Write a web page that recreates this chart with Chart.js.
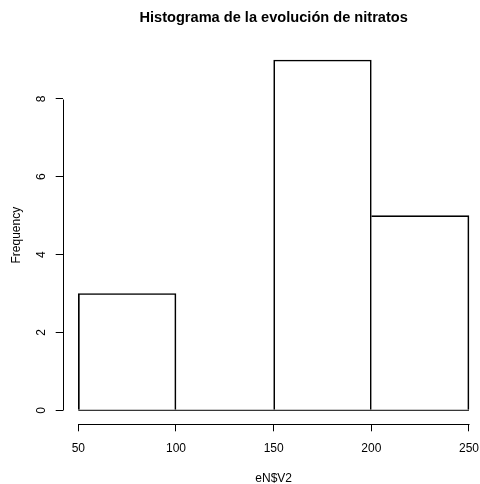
<!DOCTYPE html>
<html>
<head>
<meta charset="utf-8">
<script src="https://cdn.jsdelivr.net/npm/chart.js@4/dist/chart.umd.min.js"></script>
<style>
  html, body { margin: 0; padding: 0; background: #fff; overflow: hidden; width: 480px; height: 484px; }
  #wrap { position: relative; width: 480px; height: 484px; overflow: hidden; }
  #chart { display: block; position: absolute; left: 0; top: 0; }
</style>
</head>
<body>
<div id="wrap"><canvas id="chart" width="486" height="484" style="width:486px;height:484px"></canvas></div>
<script>
// Histogram of nitrate evolution: class breaks and counts per class
const breaks = [50, 100, 150, 200, 250];
const counts = [3, 0, 9, 5];
const xTicks = [50, 100, 150, 200, 250];
const yTicks = [0, 2, 4, 6, 8];

const mids = counts.map((_, i) => (breaks[i] + breaks[i + 1]) / 2);
const barData = counts.map((c, i) => ({ x: mids[i], y: c }));
const baseData = [{ x: breaks[0], y: 0 }, { x: breaks[breaks.length - 1], y: 0 }];

const FONT = "'Liberation Sans', Arial, Helvetica, sans-serif";

// Axis lines that run only from the first to the last tick
const axisLines = {
  id: 'axisLines',
  afterDraw(chart) {
    const { ctx, scales: { x, y } } = chart;
    ctx.save();
    ctx.strokeStyle = '#000';
    ctx.lineWidth = 1;
    ctx.beginPath();
    const xy = Math.round(x.top) + 0.5;
    ctx.moveTo(Math.round(x.getPixelForValue(xTicks[0])) + 0.5, xy);
    ctx.lineTo(Math.round(x.getPixelForValue(xTicks[xTicks.length - 1])) + 0.5, xy);
    const yx = Math.round(y.right) + 0.5;
    ctx.moveTo(yx, Math.round(y.getPixelForValue(yTicks[0])) + 0.5);
    ctx.lineTo(yx, Math.round(y.getPixelForValue(yTicks[yTicks.length - 1])) + 0.5);
    ctx.stroke();
    ctx.restore();
  }
};

// A shared edge is drawn once, by the taller neighbour on the left
const barBorder = (c) => {
  const i = c.dataIndex;
  const sharedLeft = i > 0 && counts[i - 1] >= counts[i];
  return { top: 1, right: 1, bottom: 0, left: sharedLeft ? 0 : 1 };
};

new Chart(document.getElementById('chart'), {
  type: 'bar',
  data: {
    datasets: [
      {
        type: 'bar',
        data: barData,
        backgroundColor: 'rgba(255,255,255,0)',
        borderColor: '#000000',
        borderWidth: barBorder,
        borderSkipped: false,
        barPercentage: 1,
        categoryPercentage: 1,
        order: 2
      },
      {
        type: 'line',
        data: baseData,
        borderColor: '#000000',
        borderWidth: 1,
        pointRadius: 0,
        fill: false,
        order: 1
      }
    ]
  },
  options: {
    responsive: false,
    devicePixelRatio: 1,
    animation: false,
    events: [],
    layout: { padding: { left: 0, right: 1.4, top: 0, bottom: 0 } },
    plugins: {
      legend: { display: false },
      tooltip: { enabled: false },
      title: {
        display: true,
        fullSize: false,
        text: 'Histograma de la evolución de nitratos',
        color: '#000',
        font: { family: FONT, size: 14.6, weight: 'bold' },
        padding: { top: 9, bottom: 19.5 }
      }
    },
    scales: {
      x: {
        type: 'linear',
        min: 42,
        max: 258,
        offset: false,
        afterBuildTicks: (s) => { s.ticks = xTicks.map(v => ({ value: v })); },
        afterFit: (s) => { s.height = 59.7; s.paddingLeft = 0; s.paddingRight = 0; },
        border: { display: false },
        grid: { display: true, offset: false, drawOnChartArea: false, drawTicks: true, tickLength: 7, color: '#000', lineWidth: 1 },
        ticks: { color: '#000', font: { family: FONT, size: 12 }, padding: 10, maxRotation: 0, minRotation: 0, autoSkip: false, sampleSize: 10 },
        title: { display: true, text: 'eN$V2', color: '#000', font: { family: FONT, size: 12 }, padding: { top: 0, bottom: -1.5 } }
      },
      y: {
        type: 'linear',
        min: -0.36,
        max: 9.36,
        afterBuildTicks: (s) => { s.ticks = yTicks.map(v => ({ value: v })); },
        afterFit: (s) => { s.width = 62.7; s.paddingTop = 0; s.paddingBottom = 0; },
        border: { display: false },
        grid: { display: true, offset: false, drawOnChartArea: false, drawTicks: true, tickLength: 7, color: '#000', lineWidth: 1 },
        ticks: { color: '#000', font: { family: FONT, size: 12 }, padding: 10.5, minRotation: 90, maxRotation: 90, crossAlign: 'center', autoSkip: false },
        title: { display: true, text: 'Frequency', color: '#000', font: { family: FONT, size: 12 }, padding: { top: 9, bottom: 0 } }
      }
    }
  },
  plugins: [axisLines]
});
</script>
</body>
</html>
